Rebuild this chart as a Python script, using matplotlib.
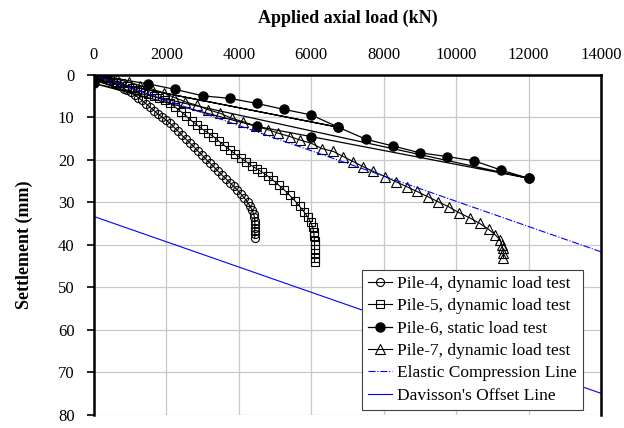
import numpy as np
import matplotlib
matplotlib.use("Agg")
import matplotlib.pyplot as plt

plt.rcParams['font.family'] = ['Liberation Serif', 'DejaVu Serif']

# Pile-4, dynamic load test (load kN, settlement mm)
p4_load = [0, 60, 130, 200, 280, 360, 450, 540, 630, 720, 820, 920, 1020, 1120, 1220,
           1330, 1440, 1550, 1660, 1770, 1880, 1990, 2100, 2210, 2320, 2430, 2540, 2650,
           2760, 2870, 2980, 3090, 3200, 3310, 3420, 3530, 3640, 3750, 3860, 3960, 4060,
           4150, 4240, 4310, 4370, 4410, 4430, 4440, 4440, 4440, 4440, 4440, 4440]
p4_settle = [0.0, 0.2, 0.4, 0.6, 0.9, 1.2, 1.5, 1.9, 2.3, 2.7, 3.2, 3.6, 4.0, 4.7, 5.3,
             6.0, 6.8, 7.6, 8.4, 9.2, 9.9, 10.6, 11.4, 12.3, 13.2, 14.2, 15.1, 16.0,
             16.9, 17.9, 18.8, 19.8, 20.7, 21.6, 22.6, 23.5, 24.4, 25.3, 26.2, 27.1, 28.0,
             28.9, 29.9, 30.9, 31.8, 32.7, 33.5, 34.3, 35.1, 35.9, 36.7, 37.5, 38.3]

# Pile-5, dynamic load test
p5_load = [0, 150, 300, 450, 600, 750, 900, 1050, 1200, 1350, 1500, 1650, 1800, 1950,
           2100, 2250, 2400, 2550, 2700, 2850, 3000, 3150, 3300, 3450, 3600, 3750, 3900,
           4050, 4200, 4350, 4500, 4650, 4800, 4950, 5100, 5250, 5400, 5550, 5680, 5800,
           5900, 5980, 6040, 6070, 6080, 6090, 6090, 6090, 6090, 6090, 6090]
p5_settle = [0.0, 0.3, 0.7, 1.1, 1.6, 2.0, 2.5, 3.0, 3.5, 4.0, 4.5, 5.0, 5.5, 6.0,
             6.6, 7.6, 8.6, 9.7, 10.8, 11.8, 12.8, 13.6, 14.5, 15.6, 16.6, 17.6, 18.6,
             19.5, 20.4, 21.3, 22.1, 22.9, 23.8, 24.8, 25.9, 27.0, 28.3, 29.6, 30.9, 32.2,
             33.4, 34.6, 35.8, 37.0, 38.0, 39.0, 40.0, 41.0, 42.0, 43.0, 44.0]

# Pile-6, static load test (loading / unloading cycles)
p6_load = [0, 1500, 2250, 3000, 3750, 4500, 5250, 6000, 6750, 0, 6750, 7500, 8250, 9000,
           9750, 10500, 11250, 12000, 6000, 4500, 0, 12000]
p6_settle = [0.0, 2.1, 3.4, 4.9, 5.5, 6.7, 8.1, 9.4, 12.3, 1.0, 12.3, 15.1, 16.7, 18.3,
             19.2, 20.2, 22.4, 24.3, 14.5, 12.1, 2.0, 24.3]

# Pile-7, dynamic load test
p7_load = [0, 320, 640, 960, 1280, 1600, 1920, 2220, 2514, 2836, 3158, 3481, 3804, 4125,
           4470, 4815, 5091, 5414, 5691, 6013, 6290, 6612, 6888, 7164, 7440, 7716, 8039,
           8334, 8640, 8917, 9210, 9497, 9790, 10083, 10370, 10646, 10895, 11077, 11215,
           11262, 11290, 11308, 11308]
p7_settle = [0.0, 0.5, 1.0, 1.7, 2.5, 3.3, 4.2, 5.3, 6.3, 7.1, 8.2, 9.0, 10.2, 11.0,
             12.0, 12.9, 13.7, 14.5, 15.3, 16.1, 17.3, 18.0, 19.2, 20.4, 21.6, 22.7, 23.9,
             25.1, 26.3, 27.4, 28.6, 29.8, 31.0, 32.4, 33.6, 34.9, 36.3, 37.6, 38.8,
             40.0, 40.8, 42.0, 43.1]

# reference lines
line_load = [0, 14000]
elastic_settle = [0, 41.6]
davisson_settle = [33.3, 74.9]

fig = plt.figure(figsize=(6.24, 4.28), dpi=100)
ax = fig.add_axes([0.1506, 0.0304, 0.8125, 0.7944])

ax.plot(p4_load, p4_settle, color='black', lw=0.8, marker='o', ms=5.8,
        mfc='none', mec='black', mew=0.8, label='Pile-4, dynamic load test')
ax.plot(p5_load, p5_settle, color='black', lw=0.8, marker='s', ms=6.2,
        mfc='none', mec='black', mew=0.8, label='Pile-5, dynamic load test')
ax.plot(p6_load, p6_settle, color='black', lw=0.9, marker='o', ms=6.5,
        mfc='black', mec='black', label='Pile-6, static load test')
ax.plot(p7_load, p7_settle, color='black', lw=0.8, marker='^', ms=6.5,
        mfc='none', mec='black', mew=0.8, label='Pile-7, dynamic load test')
ax.plot(line_load, elastic_settle, color='#0000ff', lw=0.8, ls='-.',
        label='Elastic Compression Line')
ax.plot(line_load, davisson_settle, color='#0000ff', lw=0.8,
        label="Davisson's Offset Line")

ax.set_xlim(0, 14000)
ax.set_ylim(80, 0)
ax.set_xticks(np.arange(0, 14001, 2000))
ax.set_yticks(np.arange(0, 81, 10))
ax.xaxis.tick_top()
ax.xaxis.set_label_position('top')
ax.set_xlabel('Applied axial load (kN)', fontsize=13, fontweight='bold', labelpad=17.5)
ax.set_ylabel('Settlement (mm)', fontsize=13, fontweight='bold', labelpad=18)
ax.tick_params(axis='x', length=0, pad=8.5, labelsize=12)
ax.tick_params(axis='y', length=5, width=1.2, pad=9, labelsize=12, direction='out')

ax.grid(True, color='#c8c8c8', lw=0.9)
ax.set_axisbelow(True)
for side in ['left', 'top', 'right']:
    ax.spines[side].set_linewidth(1.8)
ax.spines['bottom'].set_visible(False)

leg = ax.legend(loc='lower right', bbox_to_anchor=(0.965, 0.015), fontsize=12.5,
                frameon=True, fancybox=False, edgecolor='#404040', framealpha=1,
                handlelength=1.4, handletextpad=0.3, borderpad=0.35, labelspacing=0.36,
                borderaxespad=0)
leg.get_frame().set_linewidth(0.8)

fig.savefig('out.png', dpi=100)
